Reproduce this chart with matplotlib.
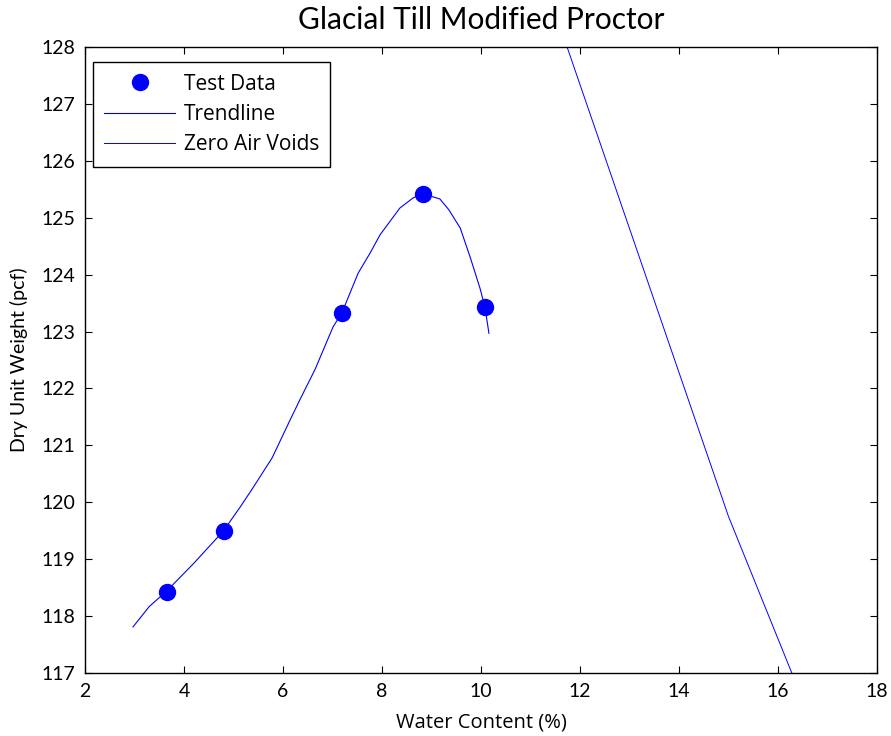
import numpy as np
import matplotlib.pyplot as plt

plt.rcParams['font.family'] = ['Lato', 'DejaVu Sans']

# Compaction test results
water_content = [3.65, 4.8, 7.2, 8.83, 10.08]
dry_unit_weight = [118.43, 119.49, 123.32, 125.42, 123.44]

# Fitted trendline through the test data
trend_w = [2.97, 3.3, 3.65, 4.2, 4.79, 5.13, 5.39, 5.78, 6.14, 6.34, 6.65, 7.01,
           7.19, 7.52, 7.76, 7.96, 8.36, 8.63, 8.83, 9.17, 9.35, 9.58, 9.78,
           9.98, 10.08, 10.16]
trend_gamma = [117.81, 118.17, 118.44, 118.93, 119.49, 119.91, 120.25, 120.78,
               121.44, 121.80, 122.34, 123.08, 123.33, 124.03, 124.38, 124.70,
               125.17, 125.35, 125.42, 125.33, 125.14, 124.82, 124.31, 123.76,
               123.43, 122.97]

# Zero air voids curve
zav_w = [10, 15, 20]
zav_gamma = [132.4, 119.75, 109.0]

fig = plt.figure(figsize=(8.91, 7.36), dpi=100)
ax = fig.add_axes([0.0954, 0.0856, 0.8889, 0.8505])

ax.plot(water_content, dry_unit_weight, 'o', color='#0000ff', markersize=11.5,
        label='Test Data', zorder=3)
ax.plot(trend_w, trend_gamma, '-', color='#0000ff', linewidth=0.8, label='Trendline')
ax.plot(zav_w, zav_gamma, '-', color='#0000ff', linewidth=0.7, label='Zero Air Voids')

ax.set_xlim(2, 18)
ax.set_ylim(117, 128)
ax.set_xticks(np.arange(2, 19, 2))
ax.set_yticks(np.arange(117, 129, 1))
ax.tick_params(direction='in', length=5, width=0.8, top=True, right=True,
               labelsize=14, colors='black', pad=7)
for s in ax.spines.values():
    s.set_linewidth(1.0)
    s.set_color('black')

ax.set_xlabel('Water Content (%)', fontsize=14.5, family=['Open Sans', 'DejaVu Sans'],
              labelpad=9)
ax.set_ylabel('Dry Unit Weight (pcf)', fontsize=14, labelpad=10)
ax.set_title('Glacial Till Modified Proctor', fontsize=21.5, pad=13)

leg = ax.legend(loc='upper left', bbox_to_anchor=(0.0101, 0.976), borderaxespad=0,
                fancybox=False, edgecolor='black', framealpha=1,
                prop={'family': ['Open Sans', 'DejaVu Sans'], 'size': 15},
                handlelength=3.4, labelspacing=0.45, borderpad=0.55,
                handletextpad=0.4, numpoints=1)
leg.get_frame().set_linewidth(1.0)

fig.savefig('out.png', dpi=100)
